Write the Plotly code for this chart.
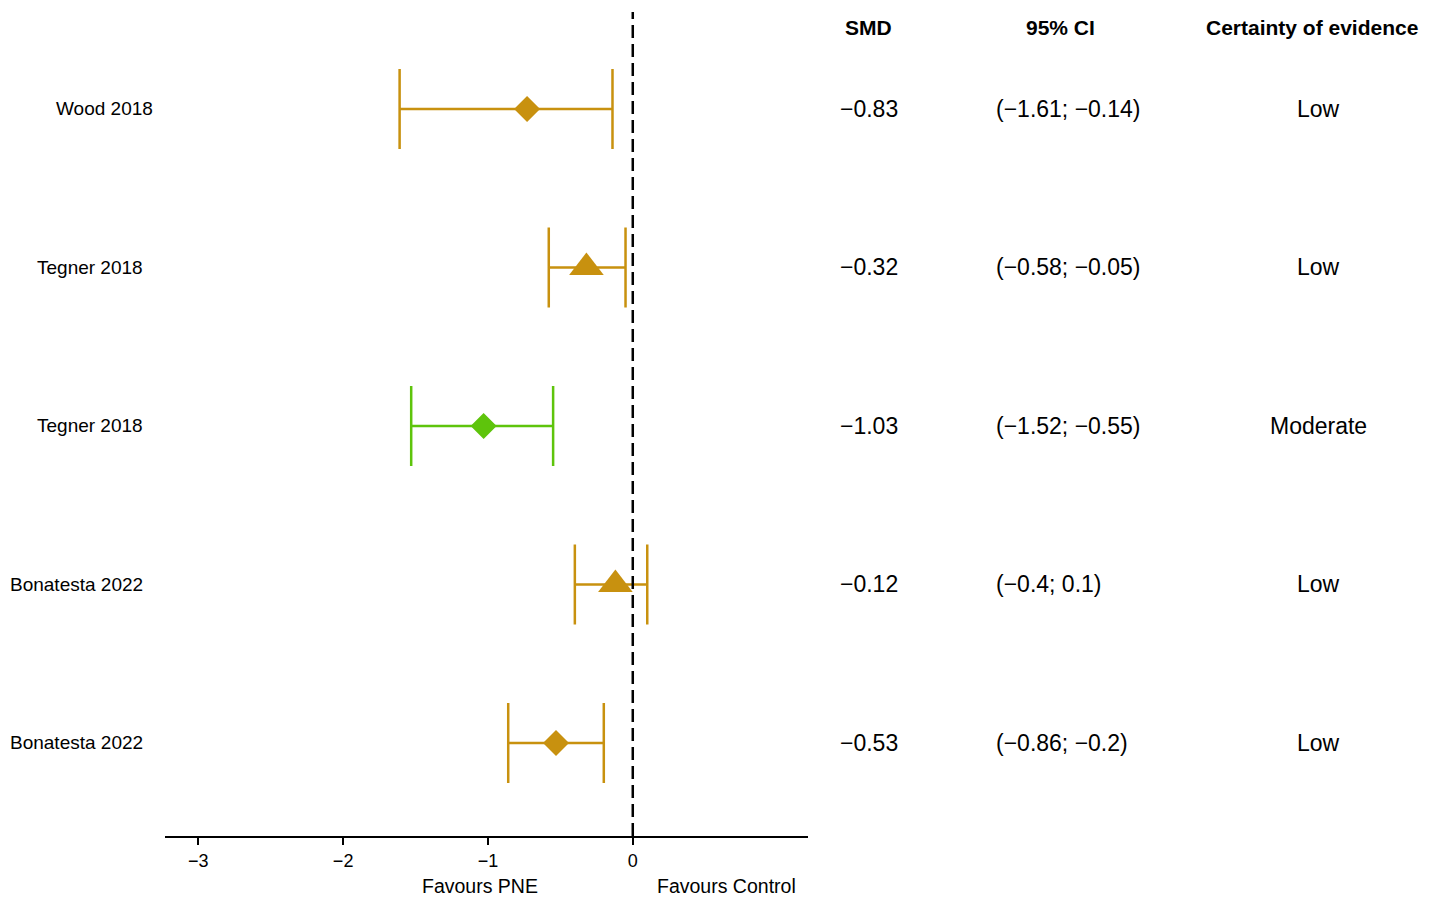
import plotly.graph_objects as go

# ---- data ----
studies = ["Wood 2018", "Tegner 2018", "Tegner 2018", "Bonatesta 2022", "Bonatesta 2022"]
estimate = [-0.73, -0.32, -1.03, -0.12, -0.53]
ci_low = [-1.61, -0.58, -1.53, -0.40, -0.86]
ci_high = [-0.14, -0.05, -0.55, 0.10, -0.20]
smd_text = ["\u22120.83", "\u22120.32", "\u22121.03", "\u22120.12", "\u22120.53"]
ci_text = ["(\u22121.61; \u22120.14)", "(\u22120.58; \u22120.05)", "(\u22121.52; \u22120.55)",
           "(\u22120.4; 0.1)", "(\u22120.86; \u22120.2)"]
certainty = ["Low", "Low", "Moderate", "Low", "Low"]
shape = ["diamond", "triangle-up", "diamond", "triangle-up", "diamond"]
tick_vals = [-3, -2, -1, 0]
tick_text = ["\u22123", "\u22122", "\u22121", "0"]

GOLD = "#C8910F"
GREEN = "#5EC40C"
colors = [GREEN if c == "Moderate" else GOLD for c in certainty]

OFF = 8  # page body margin
W, H = 1430 - OFF, 907 - OFF
FONT = "Liberation Sans, Arial, sans-serif"


def px_x(p):
    return (p - OFF) / W


def px_y(p):
    return 1 - (p - OFF) / H


fig = go.Figure()
rows = list(range(len(studies)))
for i in rows:
    fig.add_trace(go.Scatter(
        x=[estimate[i]], y=[i], mode="markers",
        marker=dict(symbol=shape[i], color=colors[i],
                    size=30 if shape[i] == "triangle-up" else 20, line=dict(width=0)),
        error_x=dict(type="data", symmetric=False,
                     array=[ci_high[i] - estimate[i]],
                     arrayminus=[estimate[i] - ci_low[i]],
                     color=colors[i], thickness=2.5, width=40),
        showlegend=False, hoverinfo="skip"))

# plot area in pixels (reference coordinates)
px_l, px_r, px_t, px_b = 165, 808, 12, 836
fig.update_layout(
    width=W, height=H, margin=dict(l=0, r=0, t=0, b=0),
    plot_bgcolor="white", paper_bgcolor="white",
    font=dict(family=FONT, color="black"),
    xaxis=dict(domain=[px_x(px_l), px_x(px_r)], range=[-3.23, 1.21],
               tickvals=tick_vals, ticktext=tick_text, ticks="outside", ticklen=7,
               tickwidth=1.5, tickcolor="black", showline=True, linecolor="black",
               linewidth=2, showgrid=False, zeroline=False,
               tickfont=dict(size=18, family=FONT)),
    yaxis=dict(domain=[px_y(px_b), px_y(px_t)], range=[4.587, -0.612],
               visible=False, showgrid=False, zeroline=False),
)

fig.add_shape(type="line", xref="x", yref="paper", x0=0, x1=0,
              y0=px_y(px_b), y1=px_y(px_t),
              line=dict(color="black", width=2.5, dash="13px,6px"))

label_right = [155, 145, 145, 145, 145]
for i in rows:
    fig.add_annotation(x=px_x(label_right[i]), xref="paper", y=i, yref="y",
                       text=studies[i], showarrow=False, xanchor="right",
                       font=dict(size=19, family=FONT))
    fig.add_annotation(x=px_x(869), xref="paper", y=i, yref="y", text=smd_text[i],
                       showarrow=False, xanchor="center", font=dict(size=23, family=FONT))
    fig.add_annotation(x=px_x(994), xref="paper", y=i, yref="y", text=ci_text[i],
                       showarrow=False, xanchor="left", font=dict(size=23, family=FONT))
    fig.add_annotation(x=px_x(1318), xref="paper", y=i, yref="y", text=certainty[i],
                       showarrow=False, xanchor="center", font=dict(size=23, family=FONT))

headers = [("SMD", 868), ("95% CI", 1060), ("Certainty of evidence", 1312)]
for t, px in headers:
    fig.add_annotation(x=px_x(px), xref="paper", y=px_y(28), yref="paper",
                       text="<b>" + t + "</b>", showarrow=False, xanchor="center",
                       yanchor="middle", font=dict(size=21, family=FONT))

for t, px in [("Favours PNE", 480), ("Favours Control", 726)]:
    fig.add_annotation(x=px_x(px), xref="paper", y=px_y(886), yref="paper",
                       text=t, showarrow=False, xanchor="center", yanchor="middle",
                       font=dict(size=19.5, family=FONT))

fig.write_html("out.html")
